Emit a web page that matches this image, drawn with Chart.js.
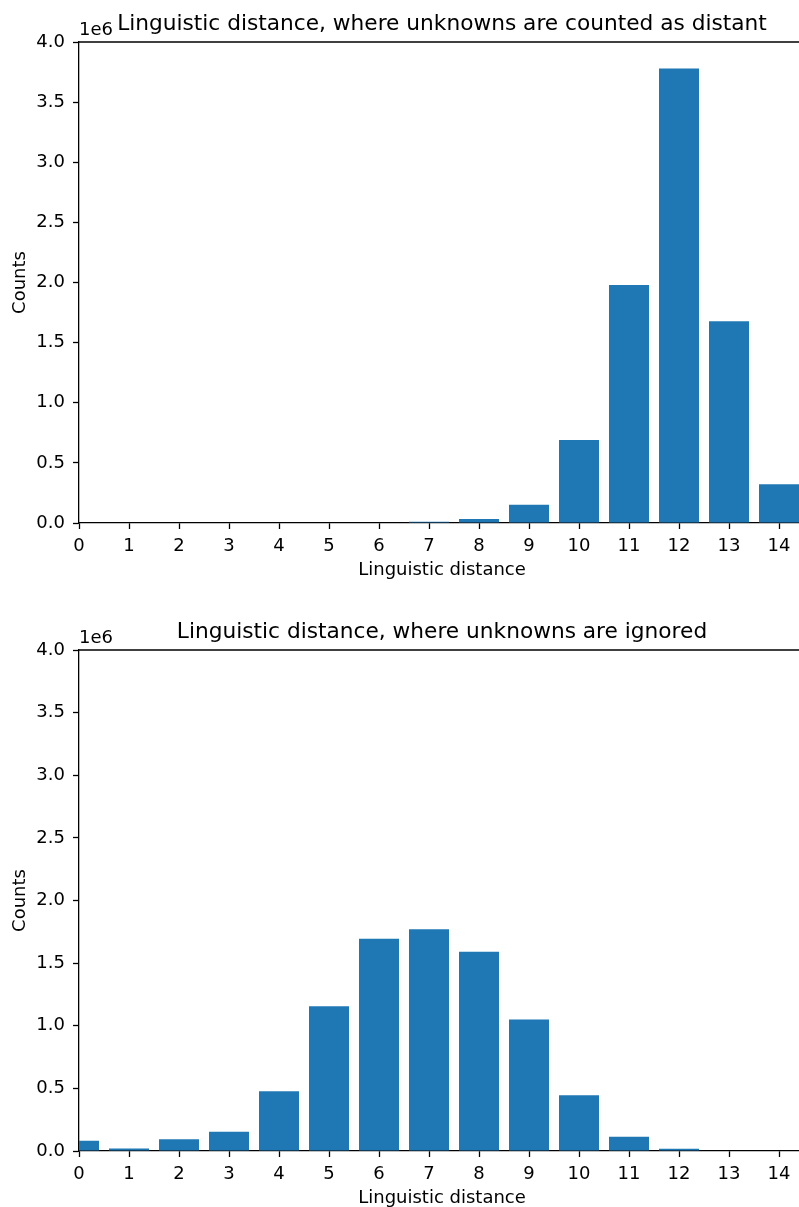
<!DOCTYPE html>
<html>
<head>
<meta charset="utf-8">
<script src="https://cdn.jsdelivr.net/npm/chart.js@4"></script>
<style>
  html, body { margin: 0; padding: 0; background: #fff; }
  #wrap { position: relative; width: 799px; height: 1207px; }
  .box { position: absolute; left: 0; width: 799px; }
</style>
</head>
<body>
<div id="wrap">
  <div class="box" style="top:0;height:600px"><canvas id="topChart" width="799" height="600"></canvas></div>
  <div class="box" style="top:600px;height:607px"><canvas id="bottomChart" width="799" height="607"></canvas></div>
</div>
<script>
// linguistic distance buckets and counts
const distances = [0, 1, 2, 3, 4, 5, 6, 7, 8, 9, 10, 11, 12, 13, 14];
const countsDistant = [0, 0, 0, 0, 0, 0, 0, 11000, 33000, 152000, 690000, 1980000, 3780000, 1677000, 322000];
const countsIgnored = [82000, 19000, 93000, 154000, 477000, 1155000, 1695000, 1770000, 1590000, 1050000, 445000, 114000, 18000, 0, 0];
const yTickValues = [0, 500000, 1000000, 1500000, 2000000, 2500000, 3000000, 3500000, 4000000];

const FONT = 'DejaVu Sans';
const TXT = '#000';
const LW = 1.3;

// title, x label, y label and "1e6" text drawn by hand so they sit like matplotlib's
const textPlugin = {
    id: 'mplText',
    afterDraw(chart, args, opts) {
        const ctx = chart.ctx;
        const a = chart.chartArea;
        ctx.save();
        ctx.fillStyle = TXT;
        // top spine
        ctx.strokeStyle = '#000';
        ctx.lineWidth = LW;
        ctx.beginPath();
        ctx.moveTo(a.left, a.top);
        ctx.lineTo(a.right, a.top);
        ctx.stroke();

        ctx.font = '21.7px ' + FONT;
        ctx.textAlign = 'center';
        ctx.textBaseline = 'alphabetic';
        ctx.fillText(opts.title, 442, a.top - 12);

        ctx.font = '18px ' + FONT;
        ctx.textAlign = 'left';
        ctx.fillText('1e6', a.left, a.top - 7);

        ctx.textAlign = 'center';
        ctx.fillText('Linguistic distance', 442, a.bottom + 52);

        ctx.translate(20, (a.top + a.bottom) / 2);
        ctx.rotate(-Math.PI / 2);
        ctx.textBaseline = 'middle';
        ctx.fillText('Counts', 0, 0);
        ctx.restore();
    }
};

function makeChart(canvasId, values, title, padTop, xAxisHeight) {
    const ctx = document.getElementById(canvasId).getContext('2d');
    return new Chart(ctx, {
        type: 'bar',
        data: {
            datasets: [{
                data: distances.map((d, i) => ({ x: d, y: values[i] })),
                backgroundColor: '#1f77b4',
                borderWidth: 0,
                barPercentage: 0.8,
                categoryPercentage: 1.0,
                clip: 0
            }]
        },
        options: {
            responsive: false,
            animation: false,
            devicePixelRatio: 1,
            layout: { padding: { top: padTop, right: 0, left: 0, bottom: 0 } },
            plugins: {
                legend: { display: false },
                tooltip: { enabled: false },
                mplText: { title: title }
            },
            scales: {
                x: {
                    type: 'linear',
                    offset: false,
                    min: 0,
                    max: 14.4,
                    afterBuildTicks: s => { s.ticks = distances.map(v => ({ value: v })); },
                    afterFit: s => { s.height = xAxisHeight; },
                    grid: { offset: false, drawOnChartArea: false, drawTicks: true, tickLength: 6, color: '#000', tickWidth: LW },
                    border: { display: true, color: '#000', width: LW },
                    ticks: { color: TXT, font: { family: FONT, size: 18 }, padding: 7, maxRotation: 0, autoSkip: false }
                },
                y: {
                    min: 0,
                    max: 4000000,
                    afterBuildTicks: s => { s.ticks = yTickValues.map(v => ({ value: v })); },
                    afterFit: s => { s.width = 79; },
                    grid: { drawOnChartArea: false, drawTicks: true, tickLength: 6, color: '#000', tickWidth: LW },
                    border: { display: true, color: '#000', width: LW },
                    ticks: {
                        color: TXT,
                        font: { family: FONT, size: 18 },
                        padding: 8,
                        callback: v => (v / 1e6).toFixed(1)
                    }
                }
            }
        },
        plugins: [textPlugin]
    });
}

makeChart('topChart', countsDistant, 'Linguistic distance, where unknowns are counted as distant', 42, 77);
makeChart('bottomChart', countsIgnored, 'Linguistic distance, where unknowns are ignored', 50, 56);
</script>
</body>
</html>
